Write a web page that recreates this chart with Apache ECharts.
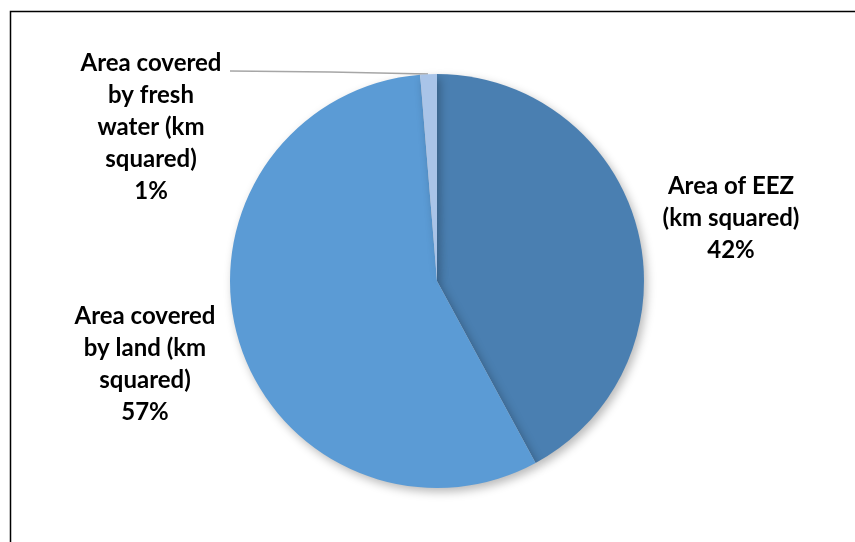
<!DOCTYPE html>
<html>
<head>
<meta charset="utf-8">
<style>
  html, body { margin: 0; padding: 0; background: #fff; }
  #chart { width: 855px; height: 542px; }
</style>
<script src="https://cdn.jsdelivr.net/npm/echarts@6/dist/echarts.min.js"></script>
</head>
<body>
<div id="chart"></div>
<script>
// Share of total area by type
const categories = [
  'Area of EEZ\n(km squared)',
  'Area covered\nby land (km\nsquared)',
  'Area covered\nby fresh\nwater (km\nsquared)'
];
const values = [42.1, 56.6, 1.3];
const colors = ['#4a7fb1', '#5b9bd5', '#a9c4e8'];

// Where each label block sits (centre of text block)
const labelSpots = [
  { x: 731, y: 218 },
  { x: 145, y: 364 },
  { x: 151, y: 127 }
];

const chart = echarts.init(document.getElementById('chart'), null, { renderer: 'canvas' });

chart.setOption({
  backgroundColor: '#ffffff',
  animation: false,
  graphic: [{
    type: 'rect',
    shape: { x: 10.5, y: 11.5, width: 900, height: 600 },
    style: { fill: 'none', stroke: '#000', lineWidth: 1.5 },
    silent: true
  }],
  series: [{
    type: 'pie',
    center: [437, 281],
    radius: [0, 207],
    startAngle: 90,
    clockwise: true,
    data: categories.map((name, i) => ({
      name,
      value: values[i],
      itemStyle: { color: colors[i] },
      labelLine: { show: i === 2 }
    })),
    itemStyle: {
      borderWidth: 0,
      shadowBlur: 10,
      shadowOffsetX: 3,
      shadowOffsetY: 4,
      shadowColor: 'rgba(0,0,0,0.28)'
    },
    label: {
      show: true,
      position: 'outside',
      formatter: p => p.name + '\n' + Math.round(p.percent) + '%',
      fontFamily: 'Lato',
      fontWeight: 'bold',
      fontSize: 24,
      lineHeight: 32,
      color: '#000',
      align: 'center'
    },
    labelLine: {
      show: false,
      lineStyle: { color: '#a6a6a6', width: 1.5 }
    },
    labelLayout: params => {
      const s = labelSpots[params.dataIndex];
      const out = { x: s.x, y: s.y, align: 'center', verticalAlign: 'middle' };
      if (params.dataIndex === 2) {
        out.labelLinePoints = [[230, 71], [330, 72], [428, 74]];
      }
      return out;
    }
  }]
});
</script>
</body>
</html>
